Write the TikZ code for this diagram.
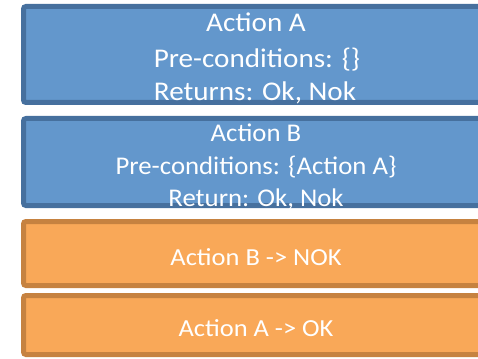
\documentclass[tikz,border=0pt]{standalone}
\usepackage{fontspec}
\setmainfont{Carlito}
\definecolor{bfill}{RGB}{99,151,204}
\definecolor{bline}{RGB}{70,112,158}
\definecolor{ofill}{RGB}{249,168,88}
\definecolor{oline}{RGB}{198,130,64}
\newcommand{\widetxt}[2]{\scalebox{#1}[1]{#2}}
\tikzset{
  bluebox/.style={draw=bline, fill=bfill, line width=5pt, rounded corners=2.5pt},
  orangebox/.style={draw=oline, fill=ofill, line width=5pt, rounded corners=2.5pt},
  txt/.style={text=white, anchor=base, inner sep=0pt, font=\fontsize{#1}{#1}\selectfont},
}
\begin{document}
\begin{tikzpicture}[x=1pt,y=-1pt]
\useasboundingbox (0,0) rectangle (478,358);
\draw[bluebox] (23.5,6.5) rectangle (488.5,102.5);
\draw[bluebox] (23.5,118.5) rectangle (488.5,205.5);
\draw[orangebox] (23.5,221.5) rectangle (488.5,285.5);
\draw[orangebox] (23.5,295.5) rectangle (488.5,354.5);
\node[txt=27] (a1) at (256,32) {\widetxt{1.08}{Action A}};
\node[txt=27] (a2) at (257,68) {\widetxt{1.08}{Pre-conditions: \{\}}};
\node[txt=27] (a3) at (255,101) {\widetxt{1.08}{Returns: Ok, Nok}};
\node[txt=25.5] (b1) at (256,141) {\widetxt{1.05}{Action B}};
\node[txt=25.5] (b2) at (256,174.3) {\widetxt{1.05}{Pre-conditions: \{Action A\}}};
\node[txt=25.5] (b3) at (256,206.7) {\widetxt{1.05}{Return: Ok, Nok}};
\node[txt=24.5] (c1) at (256,265) {\widetxt{1.08}{Action B -> NOK}};
\node[txt=24.5] (d1) at (256,336.7) {\widetxt{1.08}{Action A -> OK}};
\end{tikzpicture}
\end{document}
